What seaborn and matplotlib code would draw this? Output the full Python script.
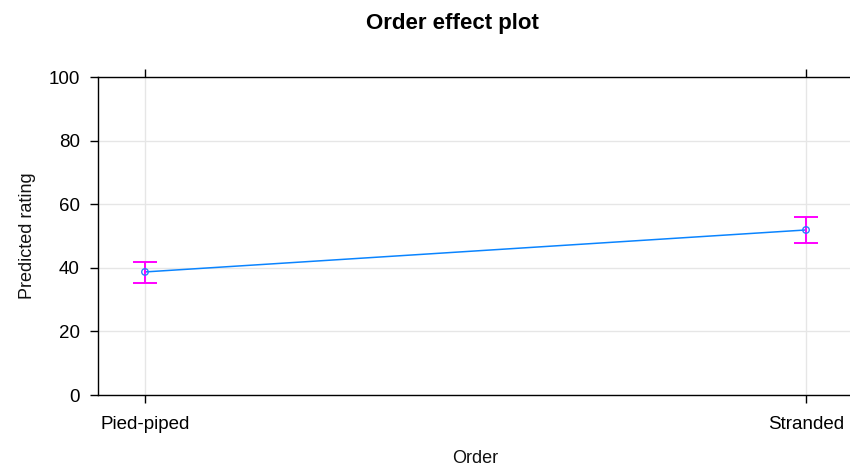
import matplotlib
matplotlib.use("Agg")
import matplotlib.pyplot as plt
import seaborn as sns
import pandas as pd

categories = ["Pied-piped", "Stranded"]
fit = [38.7, 51.9]
lower = [35.1, 47.8]
upper = [41.8, 55.9]
y_ticks = [0, 20, 40, 60, 80, 100]

sns.set_theme(style="white")
plt.rcParams['font.family'] = ['Liberation Sans', 'DejaVu Sans']

df = pd.DataFrame({"Order": categories, "fit": fit, "lower": lower, "upper": upper})

fig = plt.figure(figsize=(8.5, 4.65), dpi=100)
ax = fig.add_axes([98 / 850, 1 - 395 / 465, (853 - 98) / 850, (395 - 77) / 465])

# grid
for yv in y_ticks:
    ax.axhline(yv, color="#e6e6e6", lw=1, zorder=0)
for i in range(len(categories)):
    ax.axvline(i, color="#e6e6e6", lw=1, zorder=0)

sns.lineplot(data=df, x=range(len(categories)), y="fit", color="#0a84ff", lw=1.1,
             ax=ax, zorder=2)
ax.errorbar(range(len(categories)), df["fit"],
            yerr=[df["fit"] - df["lower"], df["upper"] - df["fit"]],
            fmt="none", ecolor="#ff00ff", elinewidth=1.4, capsize=8.5, capthick=1.4, zorder=3)
sns.scatterplot(data=df, x=range(len(categories)), y="fit", marker="o", s=22,
                facecolor="none", edgecolor="#2a7fff", linewidth=1.0, ax=ax, zorder=4)

ax.set_xlim(-0.0711, 1.0711)
ax.set_ylim(0, 100)
ax.set_xticks(range(len(categories)))
ax.set_xticklabels(categories)
ax.set_yticks(y_ticks)
ax.tick_params(axis="both", direction="out", length=6, width=1, color="black",
               labelsize=13.5, labelcolor="#000000", pad=7)
ax.tick_params(axis="x", top=True, bottom=True, pad=9)
ax.tick_params(axis="y", left=True, right=False)
for s in ["left", "bottom", "top"]:
    ax.spines[s].set_color("black")
    ax.spines[s].set_linewidth(1.0)
ax.spines["right"].set_visible(False)

ax.set_xlabel("Order", fontsize=13, color="#111111", labelpad=12)
ax.set_ylabel("Predicted rating", fontsize=13, color="#111111", labelpad=9)
fig.text(452 / 850, 1 - 24 / 465, "Order effect plot", fontsize=16, fontweight="bold",
         color="black", ha="center", va="center")

fig.savefig("out.png", dpi=100)
